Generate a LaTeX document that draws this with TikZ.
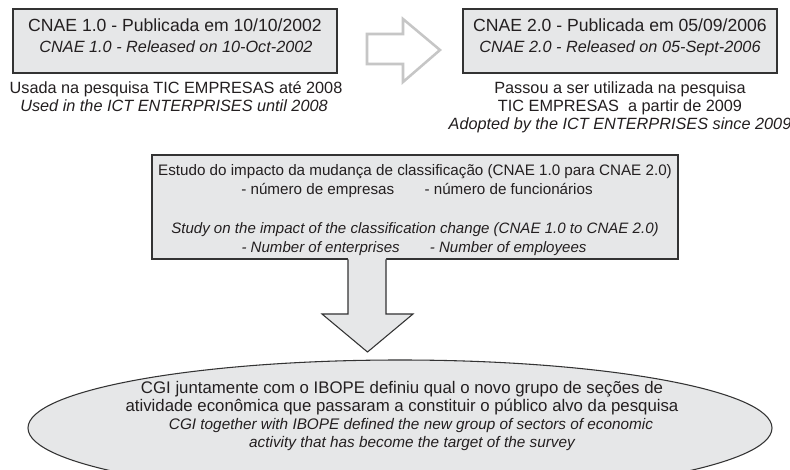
\documentclass[tikz,border=0pt]{standalone}
\usepackage{fontspec}
\setmainfont{Liberation Sans}
\usetikzlibrary{shapes.geometric}
\definecolor{boxfill}{HTML}{E6E7E8}
\definecolor{boxline}{HTML}{333333}
\definecolor{arrowline}{HTML}{C6C6C6}
\definecolor{txt}{HTML}{231F20}
\tikzset{
  boxstyle/.style={draw=boxline, fill=boxfill, line width=0.8pt, inner sep=0pt},
  titletxt/.style={font=\fontsize{13.2}{16}\selectfont, text=txt, inner sep=0pt, text height=0.75em, text depth=0.2em},
  smalltxt/.style={font=\fontsize{12.2}{14}\selectfont, text=txt, inner sep=0pt, text height=0.75em, text depth=0.2em},
  italtxt/.style={font=\fontsize{12.2}{14}\selectfont\itshape, text=txt, inner sep=0pt, text height=0.75em, text depth=0.2em},
  midtxt/.style={font=\fontsize{11.4}{14}\selectfont, text=txt, inner sep=0pt, text height=0.75em, text depth=0.2em},
  miditxt/.style={font=\fontsize{11.3}{14}\selectfont\itshape, text=txt, inner sep=0pt, text height=0.75em, text depth=0.2em},
  elltxt/.style={font=\fontsize{12.6}{16}\selectfont, text=txt, inner sep=0pt, text height=0.75em, text depth=0.2em},
  ellitxt/.style={font=\fontsize{11.5}{14}\selectfont\itshape, text=txt, inner sep=0pt, text height=0.75em, text depth=0.2em}
}
\begin{document}
\begin{tikzpicture}[x=0.75pt,y=-0.75pt]
\useasboundingbox (0,0) rectangle (790,470);
\fill[white] (0,0) rectangle (790,470);

% top boxes
\node[boxstyle, minimum width=243pt, minimum height=48pt] (b1) at (175,41) {};
\node[boxstyle, minimum width=235.5pt, minimum height=48pt] (b2) at (620,41) {};
\node[titletxt] (b1t) at (175,28) {CNAE 1.0 - Publicada em 10/10/2002};
\node[italtxt] (b1i) at (176,49) {CNAE 1.0 - Released on 10-Oct-2002};
\node[titletxt] (b2t) at (620,28) {CNAE 2.0 - Publicada em 05/09/2006};
\node[italtxt] (b2i) at (620,49) {CNAE 2.0 - Released on 05-Sept-2006};

% texts below top boxes
\node[smalltxt] (u1) at (176,90) {Usada na pesquisa TIC EMPRESAS até 2008};
\node[italtxt] (u1i) at (174,108) {Used in the ICT ENTERPRISES until 2008};
\node[smalltxt] (p1) at (620,90) {Passou a ser utilizada na pesquisa};
\node[smalltxt] (p2) at (620,108) {TIC EMPRESAS\ \ a partir de 2009};
\node[italtxt] (p3) at (620,126) {Adopted by the ICT ENTERPRISES since 2009};

% hollow right arrow
\draw[arrowline, line width=1.9pt, line join=miter, fill=white]
  (367,34) -- (403,34) -- (403,19) -- (440,50) -- (403,82) -- (403,64) -- (367,64) -- cycle;

% middle box
\node[boxstyle, minimum width=394.5pt, minimum height=78pt] (mid) at (415,207) {};
\node[midtxt] (m1) at (415,172) {Estudo do impacto da mudança de classificação (CNAE 1.0 para CNAE 2.0)};
\node[midtxt] (m2) at (417,191) {- número de empresas\hspace{2em}- número de funcionários};
\node[miditxt] (m3) at (415,230) {Study on the impact of the classification change (CNAE 1.0 to CNAE 2.0)};
\node[miditxt] (m4) at (414,249) {- Number of enterprises\hspace{2em}- Number of employees};

% down block arrow
\fill[boxfill] (348,256) -- (386,256) -- (386,314) -- (413,314) -- (367.5,352) -- (322,314) -- (348,314) -- cycle;
\draw[boxline, line width=0.8pt, line join=miter]
  (348,259.5) -- (348,314) -- (322,314) -- (367.5,352) -- (413,314) -- (386,314) -- (386,259.5);

% ellipse
\coordinate (goal) at (400,428);
\begin{scope}
\clip (0,0) rectangle (790,470);
\path[boxstyle] (goal) ellipse [x radius=372, y radius=68];
\end{scope}
\node[elltxt] (e1) at (402,390) {CGI juntamente com o IBOPE definiu qual o novo grupo de seções de};
\node[elltxt] (e2) at (402,408) {atividade econômica que passaram a constituir o público alvo da pesquisa};
\node[ellitxt] (e3) at (411,426) {CGI together with IBOPE defined the new group of sectors of economic};
\node[ellitxt] (e4) at (412,444) {activity that has become the target of the survey};
\end{tikzpicture}
\end{document}
